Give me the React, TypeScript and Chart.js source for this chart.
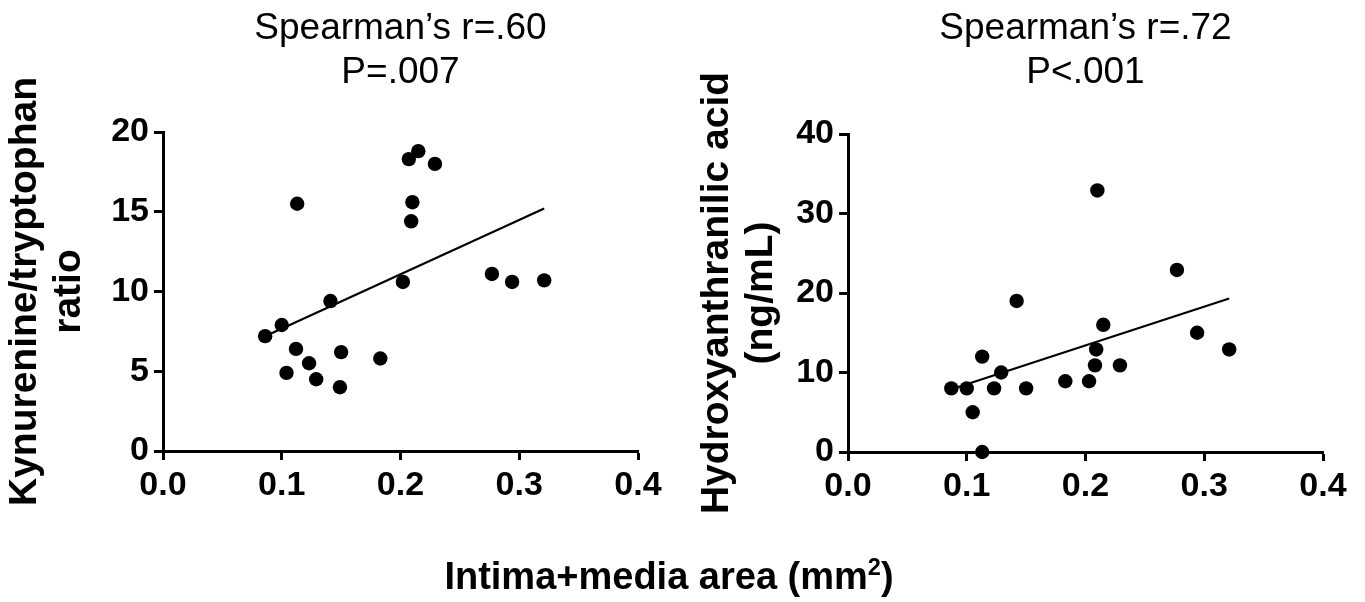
import React, { useEffect, useRef } from 'react';
import { Chart, registerables } from 'chart.js';

Chart.register(...registerables);

const FONT = '"Liberation Sans", Arial, Helvetica, sans-serif';

// Left panel: Kynurenine/tryptophan ratio vs intima+media area
const ktArea = [0.086, 0.100, 0.104, 0.112, 0.113, 0.123, 0.129, 0.141, 0.149, 0.150, 0.183, 0.202, 0.207, 0.209, 0.210, 0.215, 0.229, 0.277, 0.294, 0.321];
const ktRatio = [7.2, 7.9, 4.9, 6.4, 15.5, 5.5, 4.5, 9.4, 4.0, 6.2, 5.8, 10.6, 18.3, 14.4, 15.6, 18.8, 18.0, 11.1, 10.6, 10.7];
const ktTrendX = [0.086, 0.321];
const ktTrendY = [7.2, 15.2];
const ktTitle = ['Spearman\u2019s r=.60', 'P=.007'];
const ktYTitle = ['Kynurenine/tryptophan', 'ratio'];

// Right panel: Hydroxyanthranilic acid vs intima+media area
const haaArea = [0.087, 0.100, 0.105, 0.113, 0.113, 0.123, 0.129, 0.142, 0.150, 0.183, 0.203, 0.208, 0.209, 0.210, 0.215, 0.229, 0.277, 0.294, 0.321];
const haaConc = [8.0, 8.0, 5.0, 12.0, 0.0, 8.0, 10.0, 19.0, 8.0, 8.9, 8.9, 10.9, 12.9, 32.9, 16.0, 10.9, 22.9, 15.0, 12.9];
const haaTrendX = [0.087, 0.321];
const haaTrendY = [7.9, 19.3];
const haaTitle = ['Spearman\u2019s r=.72', 'P<.001'];
const haaYTitle = ['Hydroxyanthranilic acid', '(ng/mL)'];

const xTitle = 'Intima+media area (mm';

type Params = {
  xs: number[]; ys: number[]; tx: number[]; ty: number[];
  title: string[]; yTitle: string[];
  yMax: number; yStep: number;
  padRight: number; padBottom: number; titlePadBottom: number;
  yWidth: number; yTitlePad: number;
};

function buildConfig(p: Params): any {
  const axisGrid = {
    drawOnChartArea: false,
    drawTicks: true,
    tickLength: 9,
    tickWidth: 3,
    tickColor: '#000',
  };
  const axisBorder = { display: true, color: '#000', width: 3 };
  const tickFont = { family: FONT, size: 34, weight: 'bold' as const };
  return {
    type: 'scatter',
    data: {
      datasets: [
        {
          data: p.xs.map((x, i) => ({ x, y: p.ys[i] })),
          pointRadius: 7.2,
          pointHoverRadius: 7.2,
          backgroundColor: '#000',
          borderColor: '#000',
          borderWidth: 0,
          clip: false,
          order: 0,
        },
        {
          data: p.tx.map((x, i) => ({ x, y: p.ty[i] })),
          showLine: true,
          pointRadius: 0,
          borderColor: '#000',
          borderWidth: 2.2,
          fill: false,
          order: 1,
        },
      ],
    },
    options: {
      responsive: false,
      animation: false,
      devicePixelRatio: 1,
      events: [],
      layout: { padding: { left: 0, right: p.padRight, top: 0, bottom: p.padBottom } },
      plugins: {
        legend: { display: false },
        tooltip: { enabled: false },
        title: {
          display: true,
          text: p.title,
          fullSize: false,
          color: '#000',
          font: { family: FONT, size: 37, weight: 'normal', lineHeight: 44 / 37 },
          padding: { top: 7, bottom: p.titlePadBottom },
        },
      },
      scales: {
        x: {
          type: 'linear',
          min: 0,
          max: 0.4,
          afterFit: (s: any) => { s.height = 60; },
          ticks: {
            stepSize: 0.1,
            callback: (v: any) => Number(v).toFixed(1),
            color: '#000',
            font: tickFont,
            padding: 5,
            maxRotation: 0,
            autoSkip: false,
          },
          grid: axisGrid,
          border: axisBorder,
        },
        y: {
          type: 'linear',
          min: 0,
          max: p.yMax,
          afterFit: (s: any) => { s.width = p.yWidth; },
          ticks: {
            stepSize: p.yStep,
            color: '#000',
            font: tickFont,
            padding: 5,
          },
          grid: axisGrid,
          border: axisBorder,
          title: {
            display: true,
            text: p.yTitle,
            color: '#000',
            font: { family: FONT, size: 39, weight: 'bold', lineHeight: 44 / 39 },
            padding: { top: p.yTitlePad, bottom: 0 },
          },
        },
      },
    },
  };
}

export default function App() {
  const leftRef = useRef<HTMLCanvasElement>(null);
  const rightRef = useRef<HTMLCanvasElement>(null);

  useEffect(() => {
    const left = new Chart(leftRef.current as HTMLCanvasElement, buildConfig({
      xs: ktArea, ys: ktRatio, tx: ktTrendX, ty: ktTrendY,
      title: ktTitle, yTitle: ktYTitle,
      yMax: 20, yStep: 5,
      padRight: 52, padBottom: 91, titlePadBottom: 37,
      yWidth: 163, yTitlePad: 3,
    }));
    const right = new Chart(rightRef.current as HTMLCanvasElement, buildConfig({
      xs: haaArea, ys: haaConc, tx: haaTrendX, ty: haaTrendY,
      title: haaTitle, yTitle: haaYTitle,
      yMax: 40, yStep: 10,
      padRight: 42, padBottom: 90, titlePadBottom: 39,
      yWidth: 158, yTitlePad: 5,
    }));
    return () => {
      left.destroy();
      right.destroy();
    };
  }, []);

  return (
    <div style={{ position: 'absolute', left: 0, top: 0, width: 1365, height: 602, background: '#fff', overflow: 'hidden' }}>
      <canvas ref={leftRef} width={690} height={602} style={{ position: 'absolute', left: 0, top: 0, width: 690, height: 602 }} />
      <canvas ref={rightRef} width={675} height={602} style={{ position: 'absolute', left: 690, top: 0, width: 675, height: 602 }} />
      <div
        style={{
          position: 'absolute', left: 0, top: 557, width: 1338, textAlign: 'center',
          fontFamily: FONT, fontWeight: 'bold', fontSize: 38, lineHeight: '38px', color: '#000', whiteSpace: 'nowrap',
        }}
      >
        {xTitle}
        <span style={{ fontSize: '0.62em', position: 'relative', top: '-0.6em' }}>2</span>)
      </div>
    </div>
  );
}
